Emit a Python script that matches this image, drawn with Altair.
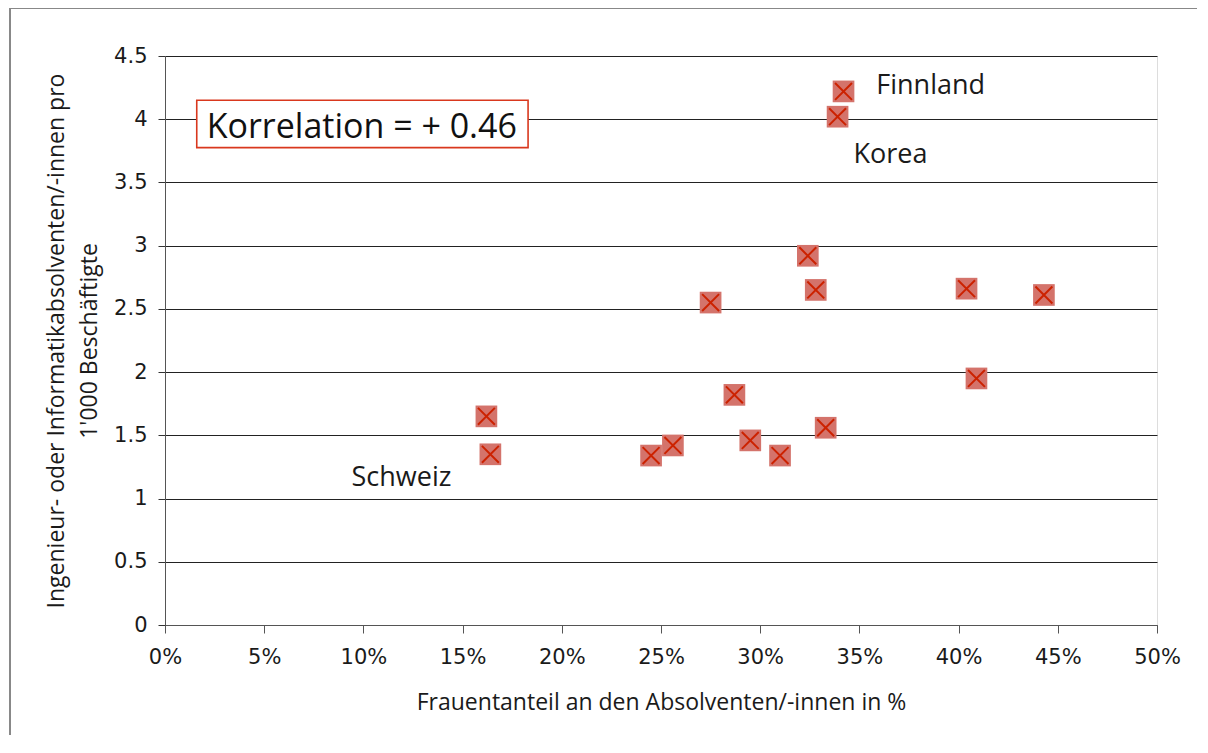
import altair as alt
import pandas as pd

# Data
share_women = [34.2, 33.9, 32.4, 32.8, 27.5, 40.4, 44.3, 40.9, 28.7, 33.3, 29.5, 25.6, 24.5, 31.0, 16.2, 16.4]
grads_per_1000 = [4.22, 4.02, 2.92, 2.65, 2.55, 2.66, 2.61, 1.95, 1.82, 1.56, 1.46, 1.42, 1.34, 1.34, 1.65, 1.35]

label_names = ["Finnland", "Korea", "Schweiz"]
label_x = [35.85, 34.7, 9.4]
label_y = [4.20, 3.655, 1.10]

corr_text = ["Korrelation = + 0.46"]
corr_x = [2.1]
corr_y = [3.85]
box_x = [1.6]
box_x2 = [18.3]
box_y = [3.775]
box_y2 = [4.15]

x_ticks = [0, 5, 10, 15, 20, 25, 30, 35, 40, 45, 50]
y_ticks = [0, 0.5, 1, 1.5, 2, 2.5, 3, 3.5, 4, 4.5]

pts = pd.DataFrame({"x": share_women, "y": grads_per_1000})
labs = pd.DataFrame({"x": label_x, "y": label_y, "t": label_names})
corr = pd.DataFrame({"x": corr_x, "y": corr_y, "t": corr_text})
box = pd.DataFrame({"x": box_x, "x2": box_x2, "y": box_y, "y2": box_y2})

xscale = alt.Scale(domain=[0, 50], nice=False, zero=True)
yscale = alt.Scale(domain=[0, 4.5], nice=False, zero=True)

xaxis = alt.Axis(
    values=x_ticks, labelExpr="datum.value + '%'", grid=False, labelFlush=False,
    title="Frauentanteil an den Absolventen/-innen in %",
    domainColor="#555", tickColor="#555", tickSize=8,
    labelFont="DejaVu Sans", labelFontSize=21, labelColor="#1a1a1a", labelPadding=13,
    titleFont="Open Sans", titleFontSize=23, titleFontWeight="normal", titleColor="#1a1a1a",
    titlePadding=24,
)
yaxis = alt.Axis(
    values=y_ticks, format=".1~f", grid=True, gridColor="#222", gridWidth=1,
    title=["Ingenieur- oder Informatikabsolventen/-innen pro", "1'000 Beschäftigte"],
    domainColor="#555", tickColor="#333", tickSize=7,
    labelFont="DejaVu Sans", labelFontSize=21, labelColor="#1a1a1a", labelPadding=11,
    titleFont="Open Sans", titleFontSize=23, titleFontWeight="normal", titleColor="#1a1a1a",
    titlePadding=12, titleLineHeight=33,
)

X = alt.X("x:Q", scale=xscale, axis=xaxis)
Y = alt.Y("y:Q", scale=yscale, axis=yaxis)

squares = alt.Chart(pts).mark_point(
    shape="square", filled=True, size=470, color="#d4736b", opacity=1, strokeWidth=0
).encode(x=X, y=Y)

crosses = alt.Chart(pts).mark_point(
    shape="M-0.78,-0.78L0.78,0.78M-0.78,0.78L0.78,-0.78", filled=False, size=470,
    stroke="#cc2200", strokeWidth=2, opacity=1
).encode(x=X, y=Y)

labels = alt.Chart(labs).mark_text(
    align="left", baseline="alphabetic", font="Open Sans", fontSize=27, color="#1a1a1a"
).encode(x=X, y=Y, text="t:N")

boxes = alt.Chart(box).mark_rect(
    fill="white", stroke="#d9381e", strokeWidth=1.6
).encode(x=X, x2="x2:Q", y=Y, y2="y2:Q")

corr_lbl = alt.Chart(corr).mark_text(
    align="left", baseline="alphabetic", font="Open Sans", fontSize=34, color="#111"
).encode(x=X, y=Y, text="t:N")

frame_left = alt.Chart(pts).mark_rule(color="#888", strokeWidth=1).encode(
    x=alt.value(-155), y=alt.value(-47.5), y2=alt.value(700)
)
frame_top = alt.Chart(pts).mark_rule(color="#888", strokeWidth=1).encode(
    x=alt.value(-155), x2=alt.value(1035), y=alt.value(-47.5)
)

chart = alt.layer(
    boxes, corr_lbl, squares, crosses, labels, frame_left, frame_top
).properties(
    width=992, height=569,
    autosize=alt.AutoSizeParams(type="none"),
    padding={"left": 157, "top": 48, "right": 40, "bottom": 110},
).configure_view(stroke=None).configure(background="white")

chart.save("out.html", embed_options={"renderer": "svg", "actions": False})
